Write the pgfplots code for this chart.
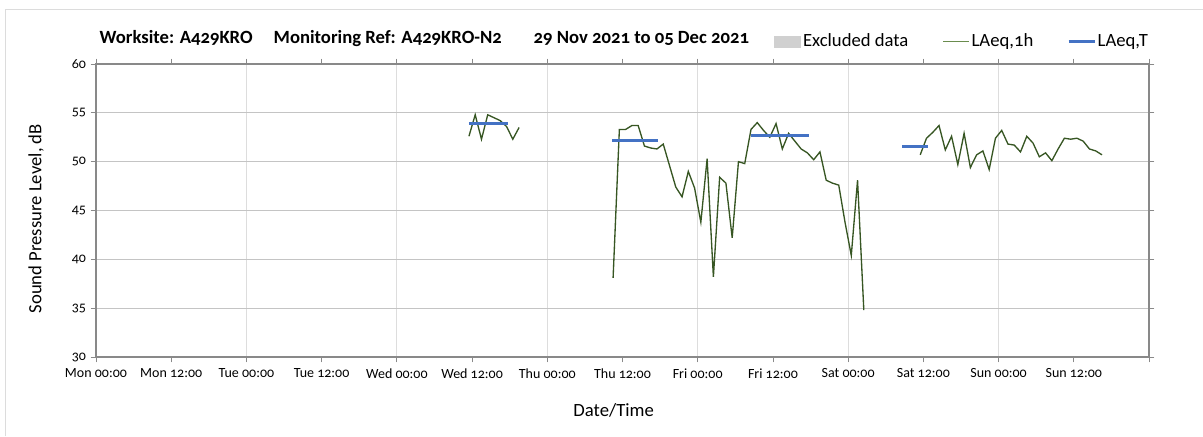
\documentclass[border=0pt]{standalone}
\usepackage{fontspec}
\setmainfont{Carlito}[Numbers=OldStyle]
\usepackage{pgfplots}
\pgfplotsset{compat=1.18}

\definecolor{lineg}{HTML}{375623}
\definecolor{legg}{HTML}{6A8C4E}
\definecolor{lblue}{HTML}{4472C4}
\definecolor{axgray}{HTML}{898989}
\definecolor{gridg}{HTML}{C4C4C4}
\definecolor{vgrid}{HTML}{DDDDDD}
\definecolor{exclg}{HTML}{D0D0D0}
\definecolor{frameg}{HTML}{DCDCDC}

% hourly LAeq,1h, x in hours from Mon 00:00
\pgfplotstableread{
h    L
59.5 52.6
60.5 54.8
61.5 52.3
62.5 54.8
63.5 54.5
64.5 54.2
65.5 53.6
66.5 52.3
67.5 53.5
}\segA
\pgfplotstableread{
h     L
82.5  38.1
83.5  53.3
84.5  53.3
85.5  53.7
86.5  53.7
87.5  51.6
88.5  51.4
89.5  51.3
90.5  51.8
91.5  49.6
92.5  47.4
93.5  46.4
94.5  49.0
95.5  47.3
96.5  43.8
97.5  50.3
98.5  38.2
99.5  48.4
100.5 47.8
101.5 42.2
102.5 50.0
103.5 49.8
104.5 53.3
105.5 54.0
106.5 53.2
107.5 52.5
108.5 53.9
109.5 51.3
110.5 52.9
111.5 52.1
112.5 51.3
113.5 50.9
114.5 50.2
115.5 51.0
116.5 48.1
117.5 47.8
118.5 47.6
119.5 43.8
120.5 40.4
121.5 48.1
122.5 34.8
}\segB
\pgfplotstableread{
h     L
131.5 50.7
132.5 52.4
133.5 53.0
134.5 53.7
135.5 51.2
136.5 52.6
137.5 49.7
138.5 52.9
139.5 49.4
140.5 50.7
141.5 51.1
142.5 49.2
143.5 52.4
144.5 53.2
145.5 51.8
146.5 51.7
147.5 51.0
148.5 52.6
149.5 51.9
150.5 50.5
151.5 50.9
152.5 50.1
153.5 51.3
154.5 52.4
155.5 52.3
156.5 52.4
157.5 52.1
158.5 51.3
159.5 51.1
160.5 50.7
}\segC

\begin{document}
\begin{tikzpicture}
\begin{axis}[
    scale only axis,
    width=789.75pt, height=219.75pt,
    xmin=0, xmax=168, ymin=30, ymax=60,
    xtick={0,12,...,168},
    xticklabels={Mon 00:00, Mon 12:00, Tue 00:00, Tue 12:00, Wed 00:00, Wed 12:00,
        Thu 00:00, Thu 12:00, Fri 00:00, Fri 12:00, Sat 00:00, Sat 12:00,
        Sun 00:00, Sun 12:00, {}},
    minor xtick={24,48,...,144},
    xminorgrids, minor grid style={vgrid, line width=0.6pt},
    minor tick length=0pt,
    ytick={30,35,...,60},
    ymajorgrids, major grid style={gridg, line width=0.6pt},
    tick align=outside, major tick length=4pt,
    axis line style={axgray, line width=0.8pt},
    tick style={axgray, line width=0.6pt},
    tick label style={font=\fontsize{10.5}{12}\selectfont},
    xticklabel style={yshift=-1pt},
    /pgf/number format/assume math mode=true,
    xlabel={Date/Time}, ylabel={Sound Pressure Level, dB},
    label style={font=\fontsize{14}{16}\selectfont},
    xlabel style={at={(axis description cs:0.4916,-0.183)}, anchor=center},
    ylabel style={at={(axis description cs:-0.057,0.472)}, anchor=center},
    legend columns=3,
    legend style={draw=none, fill=none, at={(axis description cs:1.005,1.077)},
        anchor=east, font=\fontsize{14}{16}\selectfont,
        nodes={inner sep=1.5pt},
        /tikz/every even column/.append style={column sep=24pt}},
    legend cell align=left,
]
\addlegendimage{legend image code/.code={\fill[exclg] (0pt,-4.1pt) rectangle (19.5pt,4.1pt);}}
\addlegendentry{Excluded data}

\addplot[lineg, line width=1pt, legend image code/.code={\draw[legg, line width=0.9pt] (0pt,0pt) -- (19.5pt,0pt);}]
    table[x=h, y=L] {\segA};
\addlegendentry{LAeq,1h}
\addplot[lineg, line width=1pt, forget plot] table[x=h, y=L] {\segB};
\addplot[lineg, line width=1pt, forget plot] table[x=h, y=L] {\segC};

% LAeq,T over each measured period
\addplot[lblue, line width=2.25pt, legend image code/.code={\draw[lblue, line width=1.8pt] (0pt,0pt) -- (19.5pt,0pt);}]
    coordinates {(59.5,53.9) (65.7,53.9)};
\addlegendentry{LAeq,T}
\addplot[lblue, line width=2.25pt, forget plot] coordinates {(82.4,52.2) (89.7,52.2)};
\addplot[lblue, line width=2.25pt, forget plot] coordinates {(104.5,52.7) (113.7,52.7)};
\addplot[lblue, line width=2.25pt, forget plot] coordinates {(128.6,51.6) (132.8,51.6)};
\end{axis}

\node[anchor=base west, font=\bfseries\fontsize{14}{16}\selectfont] at (-0.75pt,234.75pt) {Worksite: A429KRO};
\node[anchor=base west, font=\bfseries\fontsize{14}{16}\selectfont] at (129.75pt,234.75pt) {Monitoring Ref: A429KRO-N2};
\node[anchor=base west, font=\bfseries\fontsize{14}{16}\selectfont] at (324.75pt,234.75pt) {29 Nov 2021 to 05 Dec 2021};

\draw[frameg, line width=0.75pt] (-67.875pt,-59.25pt) -- (-67.875pt,260.25pt) -- (830.25pt,260.25pt);

\pgfresetboundingbox
\path[use as bounding box] (-72pt,-59.25pt) rectangle (830.25pt,267.75pt);
\end{tikzpicture}
\end{document}
